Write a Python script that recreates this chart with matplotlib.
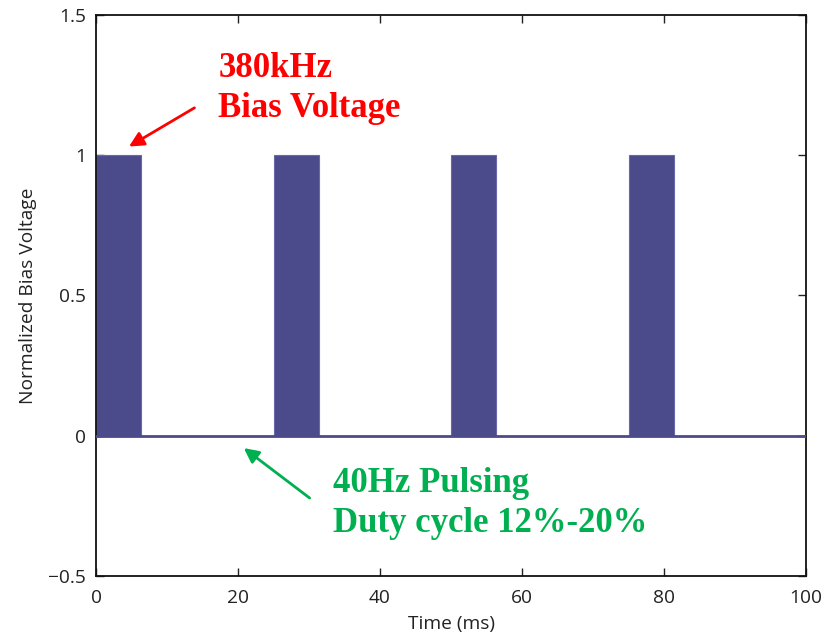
import numpy as np
import matplotlib
matplotlib.use("Agg")
from matplotlib import pyplot as plt

# pulse train (ms)
pulse_starts = [0, 25, 50, 75]
pulse_width = 6.4
pulse_level = 1.0
baseline_t = [0, 100]
baseline_v = [0, 0]

x_ticks = [0, 20, 40, 60, 80, 100]
y_ticks = [-0.5, 0, 0.5, 1, 1.5]
y_ticklabels = ["\u22120.5", "0", "0.5", "1", "1.5"]

red_lines = ["380kHz", "Bias Voltage"]
green_lines = ["40Hz Pulsing", "Duty cycle 12%-20%"]

purple = "#4b4a8a"
red = "#ff0000"
green = "#00b050"

plt.rcParams["font.family"] = ["Open Sans", "DejaVu Sans"]

fig = plt.figure(figsize=(8.25, 6.32), dpi=100)
ax = fig.add_axes([0.1164, 0.0886, 0.8606, 0.8877])

ax.bar(pulse_starts, [pulse_level] * len(pulse_starts), width=pulse_width, align="edge",
       color=purple, edgecolor="#6a69a8", linewidth=0.8, zorder=2)
ax.plot(baseline_t, baseline_v, color=purple, linewidth=2, zorder=3)

ax.set_xlim(0, 100)
ax.set_ylim(-0.5, 1.5)
ax.set_xticks(x_ticks)
ax.set_yticks(y_ticks)
ax.set_yticklabels(y_ticklabels)
ax.tick_params(direction="in", length=6, width=1, top=True, right=True, labelsize=13.8,
               colors="#222222")
ax.tick_params(axis="x", pad=9)
ax.tick_params(axis="y", pad=7)
for s in ax.spines.values():
    s.set_linewidth(1.3)
    s.set_color("#111111")
ax.set_xlabel("Time (ms)", fontsize=13.8, color="#222222", labelpad=6)
ax.set_ylabel("Normalized Bias Voltage", fontsize=13.8, color="#222222", labelpad=8)

serif = ["Liberation Serif", "DejaVu Serif"]
for txt, yb in zip(red_lines, [1.279, 1.138]):
    ax.text(17.2, yb, txt, color=red, fontsize=25, fontweight="bold",
            family=serif, va="baseline", ha="left")
ax.annotate("", xy=(4.3, 1.026), xytext=(14.2, 1.174),
            arrowprops=dict(arrowstyle="-|>", color=red, lw=2, mutation_scale=22))

for txt, yb in zip(green_lines, [-0.201, -0.343]):
    ax.text(33.4, yb, txt, color=green, fontsize=25, fontweight="bold",
            family=serif, va="baseline", ha="left")
ax.annotate("", xy=(20.5, -0.038), xytext=(30.4, -0.228),
            arrowprops=dict(arrowstyle="-|>", color=green, lw=2, mutation_scale=22))

fig.savefig("out.png", dpi=100)
